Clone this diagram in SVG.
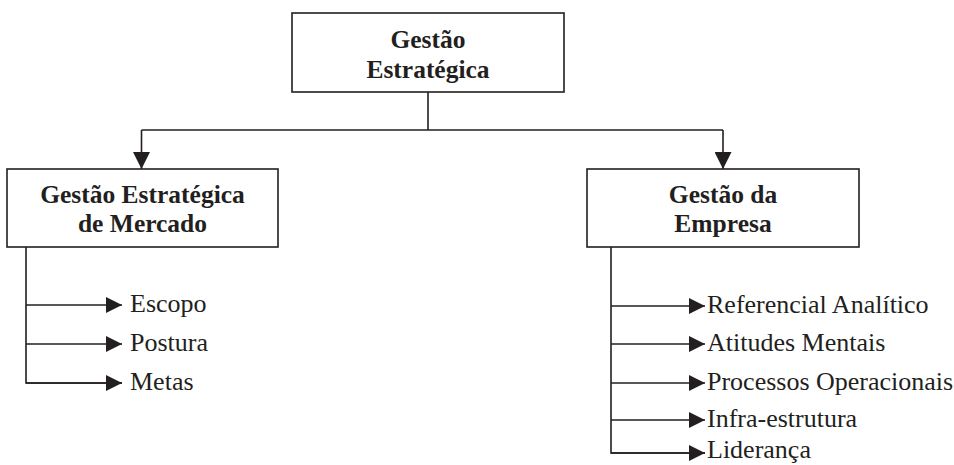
<svg xmlns="http://www.w3.org/2000/svg" width="954" height="465" viewBox="0 0 954 465">
  <style>
    .box { fill: #ffffff; stroke: #231f20; stroke-width: 1.6; }
    .title { font-family: 'Liberation Serif', 'DejaVu Serif', serif; font-weight: bold; font-size: 25.5px; fill: #231f20; text-anchor: middle; }
    .item { font-family: 'Liberation Serif', 'DejaVu Serif', serif; font-size: 26px; fill: #231f20; }
    .link { fill: none; stroke: #231f20; stroke-width: 1.6; }
  </style>
  <defs>
    <marker id="tip" markerUnits="userSpaceOnUse" markerWidth="16" markerHeight="16" refX="16" refY="8" orient="auto">
      <path d="M0,0 L16,8 L0,16 Z" fill="#231f20"/>
    </marker>
    <marker id="tipLarge" markerUnits="userSpaceOnUse" markerWidth="17" markerHeight="17" refX="17" refY="8.5" orient="auto">
      <path d="M0,0 L17,8.5 L0,17 Z" fill="#231f20"/>
    </marker>
  </defs>

  <rect width="954" height="465" fill="#ffffff"/>

  <!-- connectors -->
  <g id="connectors">
    <path class="link" d="M428,92 V130"/>
    <path class="link" d="M141.5,130 H723"/>
    <path class="link" d="M141.5,130 V169" marker-end="url(#tipLarge)"/>
    <path class="link" d="M723,130 V169" marker-end="url(#tipLarge)"/>

    <path class="link" d="M26,247 V383 H122"/>
    <path class="link" d="M26,305 H122" marker-end="url(#tip)"/>
    <path class="link" d="M26,344 H122" marker-end="url(#tip)"/>
    <path class="link" d="M26,383 H122" marker-end="url(#tip)"/>

    <path class="link" d="M611,247 V453 H705"/>
    <path class="link" d="M611,306 H705" marker-end="url(#tip)"/>
    <path class="link" d="M611,344 H705" marker-end="url(#tip)"/>
    <path class="link" d="M611,383 H705" marker-end="url(#tip)"/>
    <path class="link" d="M611,420 H705" marker-end="url(#tip)"/>
    <path class="link" d="M611,453 H705" marker-end="url(#tip)"/>
  </g>

  <!-- root node -->
  <g id="gestao-estrategica">
    <rect class="box" x="292" y="13" width="272" height="79"/>
    <text class="title" x="428" y="48">Gestão</text>
    <text class="title" x="428" y="78">Estratégica</text>
  </g>

  <!-- left branch -->
  <g id="gestao-mercado">
    <rect class="box" x="7" y="169" width="271" height="78"/>
    <text class="title" x="142.5" y="203">Gestão Estratégica</text>
    <text class="title" x="142.5" y="232">de Mercado</text>
  </g>
  <g id="escopo"><text class="item" x="130" y="312">Escopo</text></g>
  <g id="postura"><text class="item" x="130" y="351">Postura</text></g>
  <g id="metas"><text class="item" x="130" y="390">Metas</text></g>

  <!-- right branch -->
  <g id="gestao-empresa">
    <rect class="box" x="587" y="169" width="272" height="78"/>
    <text class="title" x="723" y="203">Gestão da</text>
    <text class="title" x="723" y="232">Empresa</text>
  </g>
  <g id="referencial"><text class="item" x="707" y="313">Referencial Analítico</text></g>
  <g id="atitudes"><text class="item" x="707" y="351">Atitudes Mentais</text></g>
  <g id="processos"><text class="item" x="707" y="390">Processos Operacionais</text></g>
  <g id="infra"><text class="item" x="707" y="427">Infra-estrutura</text></g>
  <g id="lideranca"><text class="item" x="707" y="458">Liderança</text></g>
</svg>
